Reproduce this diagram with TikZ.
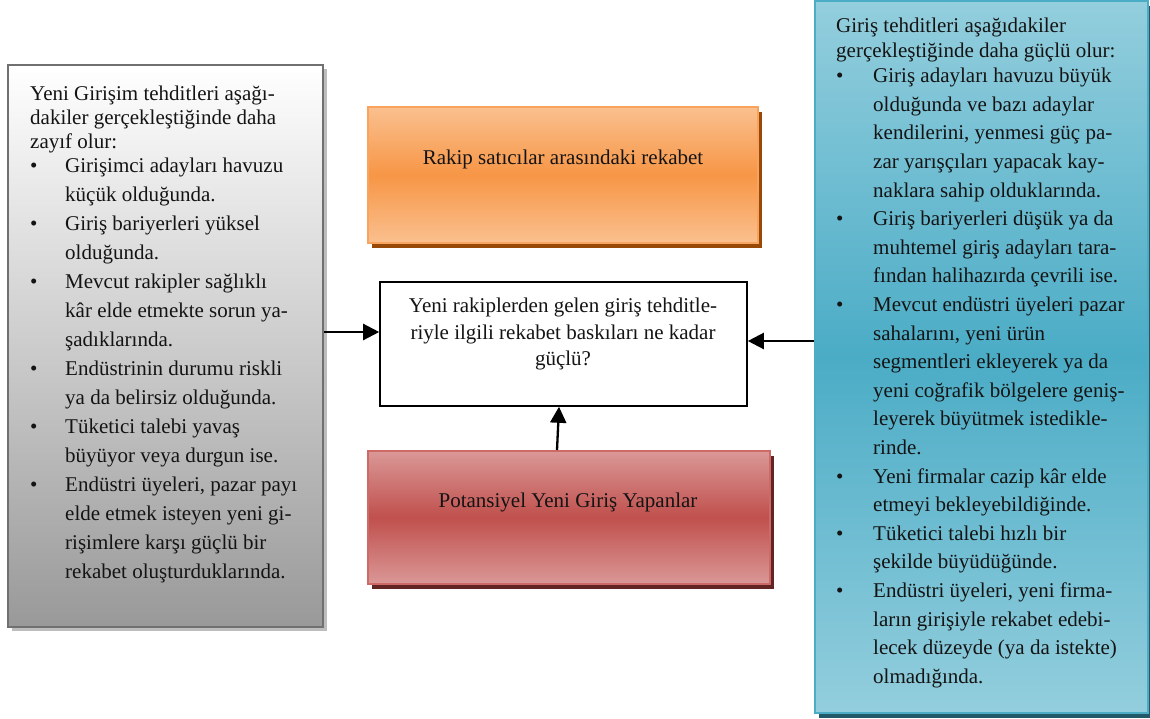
\documentclass[tikz,border=0pt]{standalone}
\usepackage{fontspec}
\setmainfont{Liberation Serif}
\usetikzlibrary{arrows.meta,shadows,calc}

\definecolor{grayline}{HTML}{707070}
\definecolor{grayshadow}{HTML}{BDBDBD}
\definecolor{graybottom}{HTML}{999999}
\definecolor{orangelight}{HTML}{FAC08F}
\definecolor{orangemid}{HTML}{F79646}
\definecolor{orangeline}{HTML}{F8A35E}
\definecolor{orangeshadow}{HTML}{984807}
\definecolor{redlight}{HTML}{DA9897}
\definecolor{redmid}{HTML}{C0504D}
\definecolor{redline}{HTML}{CD6A67}
\definecolor{redshadow}{HTML}{632523}
\definecolor{bluelight}{HTML}{93CEDD}
\definecolor{bluemid}{HTML}{4BACC6}
\definecolor{blueline}{HTML}{4BACC6}
\definecolor{blueshadow}{HTML}{215968}

% bullet items and their continuation lines (left list / right list)
\newcommand\blt{\makebox[35pt][l]{\textbullet}}
\newcommand\bsp{\hspace*{35pt}}
\newcommand\bltr{\makebox[37pt][l]{\textbullet}}
\newcommand\bspr{\hspace*{37pt}}

\begin{document}
\begin{tikzpicture}[x=1pt,y=-1pt,
  box/.style={rectangle, inner sep=0pt, line width=2pt},
  shadowof/.style={general shadow={fill=#1, shadow xshift=4pt, shadow yshift=-5pt}},
  graybox/.style={box, draw=grayline, line width=2.5pt, top color=white, bottom color=graybottom,
    general shadow={fill=grayshadow, shadow xshift=4pt, shadow yshift=-4pt}},
  orangebox/.style={box, draw=orangeline, top color=orangelight, bottom color=orangelight,
    middle color=orangemid, shadowof=orangeshadow},
  redbox/.style={box, draw=redline, top color=redlight, bottom color=redlight,
    middle color=redmid, shadowof=redshadow},
  bluebox/.style={box, draw=blueline, top color=bluelight, bottom color=bluelight,
    middle color=bluemid, shadowof=blueshadow},
  qbox/.style={box, draw=black, line width=1.6pt, fill=white},
  listtext/.style={inner sep=0pt, align=left, anchor=north west, text=black!92},
  title/.style={inner sep=0pt, align=center, font=\fontsize{21}{26.5}\selectfont, text=black!92},
  arr/.style={line width=2.3pt, -{Triangle[length=16pt,width=16pt]}}
]
\useasboundingbox (0,0) rectangle (1150,718);

% boxes
\node[graybox, minimum width=315pt, minimum height=562pt] (weak) at (165.5,346) {};
\node[orangebox, minimum width=390pt, minimum height=136pt] (rival) at (563,175) {};
\node[qbox, minimum width=367pt, minimum height=124pt] (q) at (563.5,344) {};
\node[redbox, minimum width=402pt, minimum height=133pt] (entr) at (569,517.5) {};
\node[bluebox, minimum width=333pt, minimum height=712pt] (strong) at (981.5,357) {};

% box texts
\node[title] (rivalt) at (563,159) {Rakip satıcılar arasındaki rekabet};
\node[title] (entrt) at (568,502) {Potansiyel Yeni Giriş Yapanlar};
\node[title] (qt) at (563,334) {Yeni rakiplerden gelen giriş tehditle-\\
riyle ilgili rekabet baskıları ne kadar\\
güçlü?};

\node[listtext, font=\fontsize{21}{24}\selectfont] (weakt) at (30,86) {%
Yeni Girişim tehditleri aşağı-\\
dakiler gerçekleştiğinde daha\\
zayıf olur:\\
\blt Girişimci adayları havuzu\\[5pt]
\bsp küçük olduğunda.\\[5pt]
\blt Giriş bariyerleri yüksel\\[5pt]
\bsp olduğunda.\\[5pt]
\blt Mevcut rakipler sağlıklı\\[5pt]
\bsp kâr elde etmekte sorun ya-\\[5pt]
\bsp şadıklarında.\\[5pt]
\blt Endüstrinin durumu riskli\\[5pt]
\bsp ya da belirsiz olduğunda.\\[5pt]
\blt Tüketici talebi yavaş\\[5pt]
\bsp büyüyor veya durgun ise.\\[5pt]
\blt Endüstri üyeleri, pazar payı\\[5pt]
\bsp elde etmek isteyen yeni gi-\\[5pt]
\bsp rişimlere karşı güçlü bir\\[5pt]
\bsp rekabet oluşturduklarında.};

\node[listtext, font=\fontsize{21}{25}\selectfont] (strongt) at (836,18) {%
Giriş tehditleri aşağıdakiler\\
gerçekleştiğinde daha güçlü olur:\\
\bltr Giriş adayları havuzu büyük\\[3.6pt]
\bspr olduğunda ve bazı adaylar\\[3.6pt]
\bspr kendilerini, yenmesi güç pa-\\[3.6pt]
\bspr zar yarışçıları yapacak kay-\\[3.6pt]
\bspr naklara sahip olduklarında.\\[3.6pt]
\bltr Giriş bariyerleri düşük ya da\\[3.6pt]
\bspr muhtemel giriş adayları tara-\\[3.6pt]
\bspr fından halihazırda çevrili ise.\\[3.6pt]
\bltr Mevcut endüstri üyeleri pazar\\[3.6pt]
\bspr sahalarını, yeni ürün\\[3.6pt]
\bspr segmentleri ekleyerek ya da\\[3.6pt]
\bspr yeni coğrafik bölgelere geniş-\\[3.6pt]
\bspr leyerek büyütmek istedikle-\\[3.6pt]
\bspr rinde.\\[3.6pt]
\bltr Yeni firmalar cazip kâr elde\\[3.6pt]
\bspr etmeyi bekleyebildiğinde.\\[3.6pt]
\bltr Tüketici talebi hızlı bir\\[3.6pt]
\bspr şekilde büyüdüğünde.\\[3.6pt]
\bltr Endüstri üyeleri, yeni firma-\\[3.6pt]
\bspr ların girişiyle rekabet edebi-\\[3.6pt]
\bspr lecek düzeyde (ya da istekte)\\[3.6pt]
\bspr olmadığında.};

% connectors
\coordinate (lefty) at (0,332);
\coordinate (righty) at (0,341);
\draw[arr] (weak.east |- lefty) -- (q.west |- lefty);
\draw[arr] (strong.west |- righty) -- (q.east |- righty);
\draw[arr] ($(entr.north)+(-12,0)$) -- ($(q.south)+(-4.5,0)$);
\end{tikzpicture}
\end{document}
